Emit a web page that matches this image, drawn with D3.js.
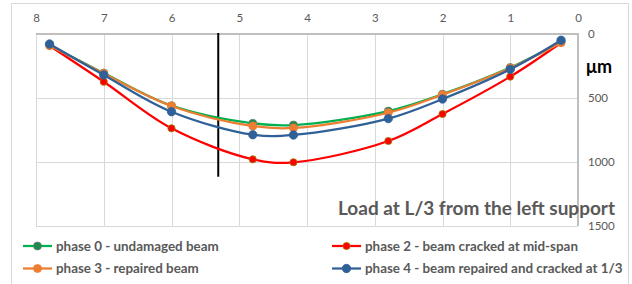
<!DOCTYPE html>
<html>
<head>
<meta charset="utf-8">
<script src="https://cdn.jsdelivr.net/npm/d3@7"></script>
<style>
  body { margin: 0; background: #fff; }
  svg { display: block; font-family: Lato, "Open Sans", sans-serif; }
</style>
</head>
<body>
<svg id="chart" width="632" height="284"></svg>
<script>
// positions along the beam (m)
var positions = [7.8, 7, 6, 4.8, 4.2, 2.8, 2, 1, 0.25];
// deflections in micrometres
var phase0 = [85, 305, 560, 698, 711, 602, 470, 262, 62];
var phase2 = [92, 373, 737, 979, 1002, 836, 625, 333, 68];
var phase3 = [90, 308, 562, 719, 734, 615, 474, 265, 68];
var phase4 = [78, 320, 607, 787, 789, 661, 508, 276, 49];

var xTicks = [8, 7, 6, 5, 4, 3, 2, 1, 0];
var yTicks = [0, 500, 1000, 1500];
var loadAt = 5.31;          // vertical line, load at L/3
var loadLineDepth = 1115;

var seriesNames = [
  'phase 0 - undamaged beam',
  'phase 2 - beam cracked at mid-span',
  'phase 3 - repaired beam',
  'phase 4 - beam repaired and cracked at 1/3'
];

var svg = d3.select('#chart');
var plot = { left: 36, right: 578, top: 34, bottom: 226 };

// outer chart border
svg.append('rect')
  .attr('x', 11.5).attr('y', 3.5)
  .attr('width', 617).attr('height', 300)
  .attr('fill', 'none').attr('stroke', '#d9d9d9');

var x = d3.scaleLinear().domain([8, 0]).range([plot.left, plot.right]);
var y = d3.scaleLinear().domain([0, 1500]).range([plot.top, plot.bottom]);

// grid lines
var grid = svg.append('g');
grid.selectAll('line.v')
  .data(xTicks)
  .enter().append('line')
  .attr('x1', function (d) { return Math.round(x(d)) + 0.5; })
  .attr('x2', function (d) { return Math.round(x(d)) + 0.5; })
  .attr('y1', plot.top).attr('y2', plot.bottom)
  .attr('stroke', '#d9d9d9').attr('stroke-width', 1);
grid.selectAll('line.h')
  .data(yTicks)
  .enter().append('line')
  .attr('x1', plot.left).attr('x2', plot.right)
  .attr('y1', function (d) { return Math.round(y(d)) + 0.5; })
  .attr('y2', function (d) { return Math.round(y(d)) + 0.5; })
  .attr('stroke', '#d9d9d9').attr('stroke-width', 1);

// axes lines (top and right)
svg.append('line')
  .attr('x1', plot.left).attr('x2', plot.right + 1)
  .attr('y1', plot.top).attr('y2', plot.top)
  .attr('stroke', '#bfbfbf').attr('stroke-width', 2);
svg.append('line')
  .attr('x1', plot.right).attr('x2', plot.right)
  .attr('y1', plot.top).attr('y2', plot.bottom)
  .attr('stroke', '#bfbfbf').attr('stroke-width', 2);

// top axis labels
var xAxis = d3.axisTop(x).tickValues(xTicks).tickSize(0).tickPadding(0);
var gx = svg.append('g')
  .attr('transform', 'translate(0,22)')
  .call(xAxis);
gx.select('.domain').remove();
gx.selectAll('text')
  .attr('fill', '#595959')
  .style('font-size', '11.5px')
  .style('font-family', 'Lato, sans-serif');

// right axis labels
var yAxis = d3.axisRight(y).tickValues(yTicks).tickFormat(d3.format('d'))
  .tickSize(0).tickPadding(0);
var gy = svg.append('g')
  .attr('transform', 'translate(588,0)')
  .call(yAxis);
gy.select('.domain').remove();
gy.selectAll('text')
  .attr('fill', '#595959')
  .style('font-size', '11.5px')
  .style('font-family', 'Lato, sans-serif');

svg.append('text')
  .attr('x', 586).attr('y', 73)
  .attr('fill', '#000')
  .style('font-size', '18px').style('font-weight', 'bold')
  .text('\u03bcm');

// title inside the plot
svg.append('text')
  .attr('x', 615).attr('y', 215)
  .attr('text-anchor', 'end')
  .attr('fill', '#595959')
  .style('font-size', '19px').style('font-weight', 'bold')
  .text('Load at L/3 from the left support');

// load position line
svg.append('line')
  .attr('x1', x(loadAt)).attr('x2', x(loadAt))
  .attr('y1', y(0) - 1).attr('y2', y(loadLineDepth))
  .attr('stroke', '#000').attr('stroke-width', 2);

var series = [
  { name: seriesNames[0], values: phase0, color: '#00b050', fill: '#1e8a4c', stroke: '#6f7f74', r: 4 },
  { name: seriesNames[1], values: phase2, color: '#ff0000', fill: '#ff0000', stroke: '#9c7a00', r: 3.6 },
  { name: seriesNames[2], values: phase3, color: '#ed7d31', fill: '#ed7d31', stroke: '#ed7d31', r: 4 },
  { name: seriesNames[3], values: phase4, color: '#2f6097', fill: '#2f6097', stroke: '#2f6097', r: 4.2 }
];

var line = d3.line()
  .x(function (d) { return x(d[0]); })
  .y(function (d) { return y(d[1]); })
  .curve(d3.curveCatmullRom.alpha(0.5));

series.forEach(function (s) {
  var pts = positions.map(function (p, i) { return [p, s.values[i]]; });
  var g = svg.append('g');
  g.append('path')
    .datum(pts)
    .attr('d', line)
    .attr('fill', 'none')
    .attr('stroke', s.color)
    .attr('stroke-width', 2.25);
  g.selectAll('circle')
    .data(pts)
    .enter().append('circle')
    .attr('cx', function (d) { return x(d[0]); })
    .attr('cy', function (d) { return y(d[1]); })
    .attr('r', s.r)
    .attr('fill', s.fill)
    .attr('stroke', s.stroke)
    .attr('stroke-width', 0.8);
});

// legend
var legendPos = [[23, 246], [332, 246], [23, 268.5], [332, 268.5]];
series.forEach(function (s, i) {
  var lx = legendPos[i][0], ly = legendPos[i][1];
  var lg = svg.append('g').attr('transform', 'translate(' + lx + ',' + ly + ')');
  lg.append('line')
    .attr('x1', 0).attr('x2', 29)
    .attr('y1', 0).attr('y2', 0)
    .attr('stroke', s.color).attr('stroke-width', 2.25);
  lg.append('circle')
    .attr('cx', 14.5).attr('cy', 0).attr('r', s.r)
    .attr('fill', s.fill).attr('stroke', s.stroke).attr('stroke-width', 0.8);
  lg.append('text')
    .attr('x', 33).attr('y', 4.7)
    .attr('fill', '#595959')
    .style('font-size', '13.4px').style('font-weight', 'bold')
    .text(s.name);
});
</script>
</body>
</html>
